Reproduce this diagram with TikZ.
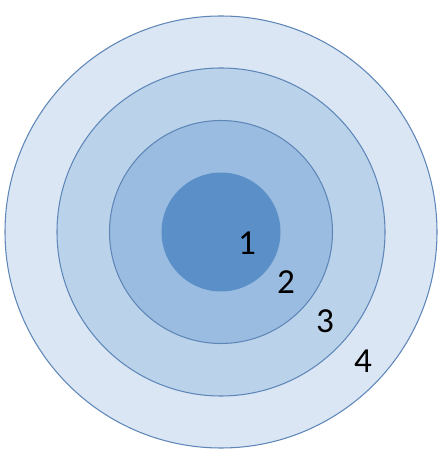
\documentclass[tikz,border=0pt]{standalone}
\usepackage{fontspec}
\setmainfont{Carlito}
\usepackage{xcolor}
\usepackage{tkz-euclide}
\definecolor{ringline}{HTML}{5E86B8}
\definecolor{ringA}{HTML}{5A8FC8}
\definecolor{ringB}{HTML}{9ABCE0}
\definecolor{ringC}{HTML}{BBD3EA}
\definecolor{ringD}{HTML}{DAE6F4}
\tikzset{ring/.style={draw=ringline, line width=0.6pt},
    lab/.style={font=\fontsize{20}{22}\selectfont, text=black}}

\begin{document}
\begin{tikzpicture}
    \useasboundingbox (-4.42,-4.58) rectangle (4.52,4.64);
    \tkzDefPoint(0,0){O}

    \filldraw[ring, fill=ringD] (O) circle (4.32);
    \filldraw[ring, fill=ringC] (O) circle (3.28);
    \filldraw[ring, fill=ringB] (O) circle (2.23);
    \fill[ringA] (O) circle (1.19);

    \node[lab] (l1) at (0.52,-0.22) {1};
    \node[lab] (l2) at (1.30,-1.00) {2};
    \node[lab] (l3) at (2.08,-1.78) {3};
    \node[lab] (l4) at (2.84,-2.58) {4};
    \end{tikzpicture}
\end{document}
